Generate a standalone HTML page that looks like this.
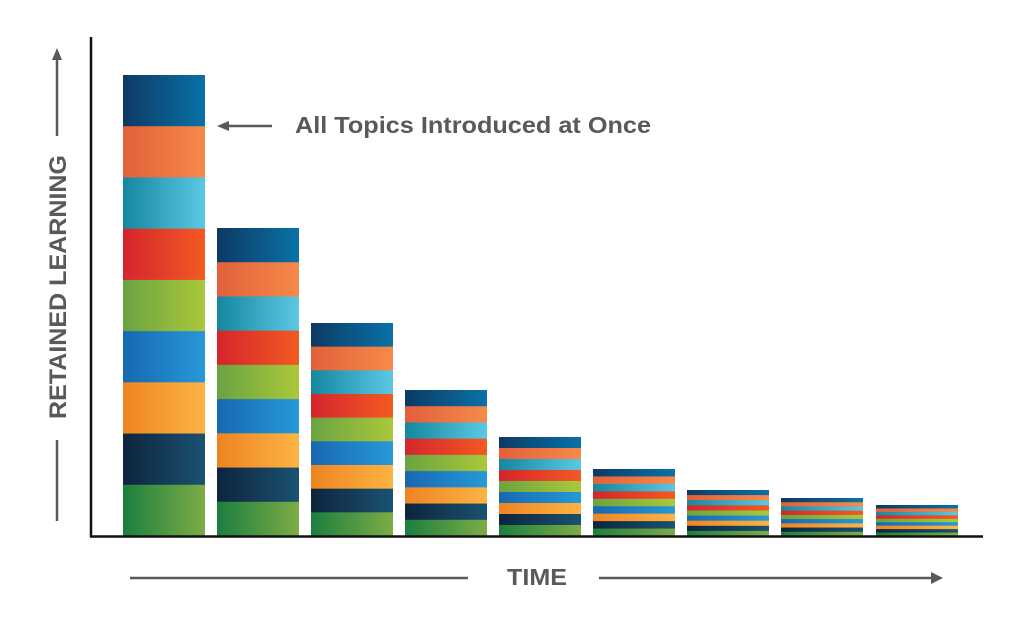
<!DOCTYPE html>
<html><head><meta charset="utf-8"><style>
html,body{margin:0;padding:0;background:#fff;width:1024px;height:631px;overflow:hidden}
.t{font-family:"Liberation Sans",sans-serif;font-weight:bold;fill:#58595b}
</style></head><body>
<svg id="s" width="1024" height="631" viewBox="0 0 1024 631" xmlns="http://www.w3.org/2000/svg">
<defs>
<linearGradient id="g0"><stop offset="0" stop-color="#0c3a63"/><stop offset="1" stop-color="#0a72a8"/></linearGradient>
<linearGradient id="g1"><stop offset="0" stop-color="#e2603b"/><stop offset="1" stop-color="#f58a4a"/></linearGradient>
<linearGradient id="g2"><stop offset="0" stop-color="#15879f"/><stop offset="1" stop-color="#5cc8e4"/></linearGradient>
<linearGradient id="g3"><stop offset="0" stop-color="#d5252d"/><stop offset="1" stop-color="#f25a22"/></linearGradient>
<linearGradient id="g4"><stop offset="0" stop-color="#6aa342"/><stop offset="1" stop-color="#abc83a"/></linearGradient>
<linearGradient id="g5"><stop offset="0" stop-color="#1868b0"/><stop offset="1" stop-color="#2699d8"/></linearGradient>
<linearGradient id="g6"><stop offset="0" stop-color="#ee8422"/><stop offset="1" stop-color="#fcb444"/></linearGradient>
<linearGradient id="g7"><stop offset="0" stop-color="#0e243d"/><stop offset="1" stop-color="#1a5272"/></linearGradient>
<linearGradient id="g8"><stop offset="0" stop-color="#1b7f3f"/><stop offset="1" stop-color="#7dac46"/></linearGradient>
</defs>
<g id="bars"></g>
<line x1="91" y1="37" x2="91" y2="537" stroke="#111" stroke-width="2.5"/>
<line x1="90" y1="536.5" x2="983" y2="536.5" stroke="#111" stroke-width="2.5"/>
<line x1="57" y1="58" x2="57" y2="136" stroke="#58595b" stroke-width="2.5"/>
<polygon points="57,48 52,60 62,60" fill="#58595b"/>
<line x1="57" y1="440" x2="57" y2="521" stroke="#58595b" stroke-width="2.5"/>
<text class="t" font-size="24" transform="translate(66,287) rotate(-90)" text-anchor="middle" textLength="264" lengthAdjust="spacingAndGlyphs">RETAINED LEARNING</text>
<line x1="227" y1="126" x2="272" y2="126" stroke="#58595b" stroke-width="2.5"/>
<polygon points="217,126 229,121 229,131" fill="#58595b"/>
<text class="t" font-size="23" x="295" y="133" textLength="356" lengthAdjust="spacingAndGlyphs">All Topics Introduced at Once</text>
<line x1="130" y1="578" x2="468" y2="578" stroke="#58595b" stroke-width="2.5"/>
<text class="t" font-size="23" x="507" y="585" textLength="60" lengthAdjust="spacingAndGlyphs">TIME</text>
<line x1="599" y1="578" x2="933" y2="578" stroke="#58595b" stroke-width="2.5"/>
<polygon points="943,578 931,572 931,584" fill="#58595b"/>
</svg>
<script>
var tops=[75,228,323,390,437,469,490,498,505];
var xs=[123,217,311,405,499,593,687,781,876];
var g=document.getElementById('bars'),h='';
for(var i=0;i<9;i++){var seg=(536-tops[i])/9;
for(var j=0;j<9;j++){h+='<rect x="'+xs[i]+'" y="'+(tops[i]+j*seg)+'" width="82" height="'+(seg+0.5)+'" fill="url(#g'+j+')"/>';}}
g.innerHTML=h;
</script>
</body></html>
